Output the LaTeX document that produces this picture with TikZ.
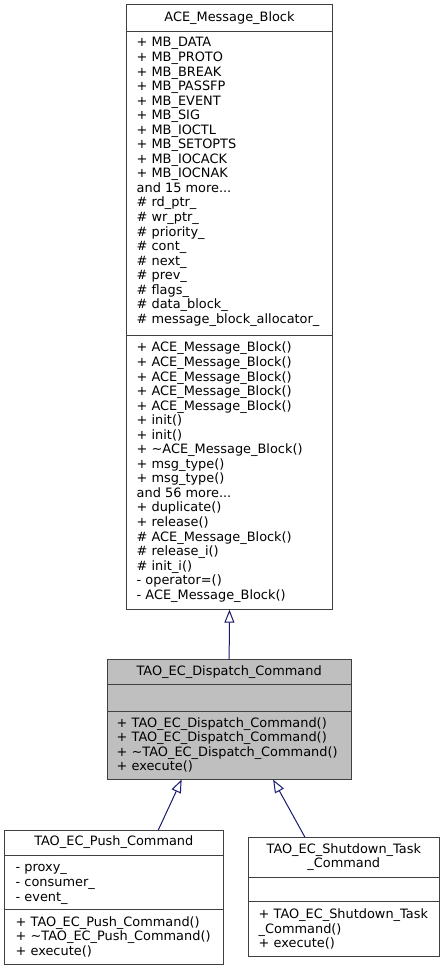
\documentclass[tikz,border=0pt]{standalone}
\usepackage{fontspec}
\usetikzlibrary{arrows.meta}
\newfontfamily\umlfont{DejaVu Sans}
\newcommand*{\memfont}{\umlfont\fontsize{12.9}{14.55}\selectfont}
\newcommand*{\memstrut}{\rule{0pt}{10.5pt}}
\definecolor{edgeblue}{HTML}{191970}
\definecolor{boxgray}{HTML}{BFBFBF}

\begin{document}
\begin{tikzpicture}
[
	x=1pt, y=-1pt,
	part/.style={draw=black!75, line width=1pt, fill=white, anchor=north west, inner sep=0pt, outer sep=0pt, font=\memfont, align=center},
	members/.style={anchor=north west, align=left, inner sep=0pt, font=\memfont},
	inherit/.style={draw=edgeblue, line width=1pt, -{Triangle[open,length=13pt,width=10pt]}}
]
	\useasboundingbox (0,0) rectangle (444,971);

	% ACE_Message_Block
	\node[part, minimum width=205.6pt, minimum height=26.7pt] (baseT) at (126.7,5) {ACE\_Message\_Block};
	\node[part, minimum width=205.6pt, minimum height=303.3pt] (baseA) at (126.7,31.7) {};
	\node[part, minimum width=205.6pt, minimum height=274.7pt] (baseM) at (126.7,335) {};
	\node[members] (baseAtext) at (136.5,36.2) {\memstrut+ MB\_DATA\\+ MB\_PROTO\\+ MB\_BREAK\\+ MB\_PASSFP\\+ MB\_EVENT\\+ MB\_SIG\\+ MB\_IOCTL\\+ MB\_SETOPTS\\+ MB\_IOCACK\\+ MB\_IOCNAK\\and 15 more...\\\# rd\_ptr\_\\\# wr\_ptr\_\\\# priority\_\\\# cont\_\\\# next\_\\\# prev\_\\\# flags\_\\\# data\_block\_\\\# message\_block\_allocator\_};
	\node[members] (baseMtext) at (136.5,341.2) {\memstrut+ ACE\_Message\_Block()\\+ ACE\_Message\_Block()\\+ ACE\_Message\_Block()\\+ ACE\_Message\_Block()\\+ ACE\_Message\_Block()\\+ init()\\+ init()\\+ \textasciitilde ACE\_Message\_Block()\\+ msg\_type()\\+ msg\_type()\\and 56 more...\\+ duplicate()\\+ release()\\\# ACE\_Message\_Block()\\\# release\_i()\\\# init\_i()\\- operator=()\\- ACE\_Message\_Block()};

	% TAO_EC_Dispatch_Command
	\node[part, fill=boxgray, minimum width=243.7pt, minimum height=25pt] (dispT) at (107.3,659.3) {TAO\_EC\_Dispatch\_Command};
	\node[part, fill=boxgray, minimum width=243.7pt, minimum height=26.7pt] (dispA) at (107.3,684.3) {};
	\node[part, fill=boxgray, minimum width=243.7pt, minimum height=68.6pt] (dispM) at (107.3,711) {};
	\node[members] (dispMtext) at (116.5,716.5) {\memstrut+ TAO\_EC\_Dispatch\_Command()\\+ TAO\_EC\_Dispatch\_Command()\\+ \textasciitilde TAO\_EC\_Dispatch\_Command()\\+ execute()};

	% TAO_EC_Push_Command
	\node[part, minimum width=219pt, minimum height=25pt] (pushT) at (4.3,830) {TAO\_EC\_Push\_Command};
	\node[part, minimum width=219pt, minimum height=54.3pt] (pushA) at (4.3,855) {};
	\node[part, minimum width=219pt, minimum height=54.7pt] (pushM) at (4.3,909.3) {};
	\node[members] (pushAtext) at (15.5,861.2) {\memstrut- proxy\_\\- consumer\_\\- event\_};
	\node[members] (pushMtext) at (15.5,915.5) {\memstrut+ TAO\_EC\_Push\_Command()\\+ \textasciitilde TAO\_EC\_Push\_Command()\\+ execute()};

	% TAO_EC_Shutdown_Task_Command
	\node[part, minimum width=191pt, minimum height=40pt] (shutT) at (248.3,837.3) {TAO\_EC\_Shutdown\_Task\\\_Command};
	\node[part, minimum width=191pt, minimum height=24.4pt] (shutA) at (248.3,877.3) {};
	\node[part, minimum width=191pt, minimum height=55pt] (shutM) at (248.3,901.7) {};
	\node[members] (shutMtext) at (258.5,907.8) {\memstrut+ TAO\_EC\_Shutdown\_Task\\\_Command()\\+ execute()};

	% inheritance
	\draw[inherit] (dispT.north) -- (baseM.south);
	\draw[inherit] ([xshift=44.5pt]pushT.north) -- ([xshift=-47.5pt]dispM.south);
	\draw[inherit] ([xshift=-38.8pt]shutT.north) -- ([xshift=44pt]dispM.south);

\end{tikzpicture}
\end{document}
